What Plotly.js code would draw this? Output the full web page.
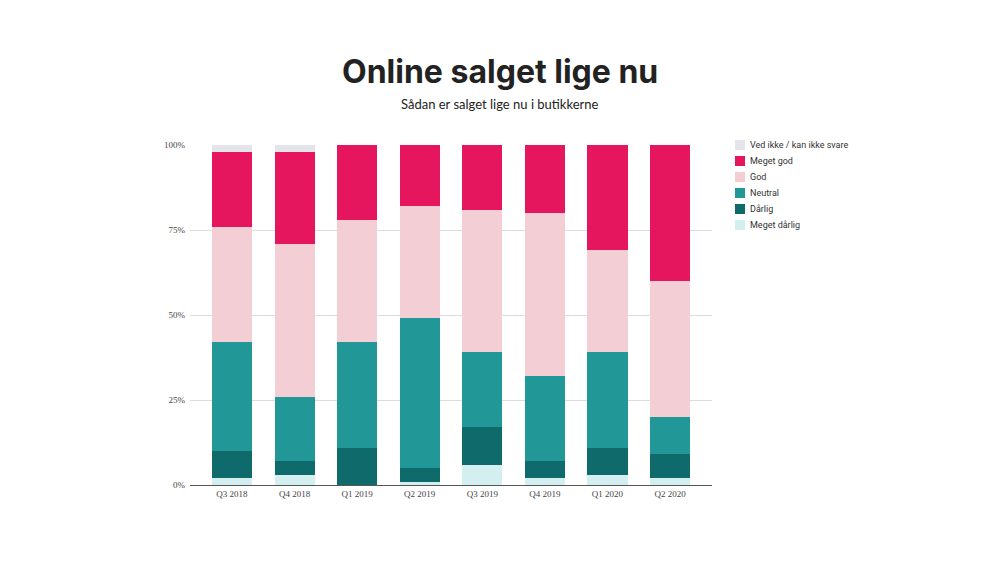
<!DOCTYPE html>
<html><head><meta charset="utf-8">
<script src="https://cdn.plot.ly/plotly-3.0.1.min.js"></script>
<style>body{margin:0;background:#fff}#chart{width:1000px;height:562px}</style>
</head><body><div id="chart"></div>
<script>
const categories = ["Q3 2018","Q4 2018","Q1 2019","Q2 2019","Q3 2019","Q4 2019","Q1 2020","Q2 2020"];
const megetDarlig = [2,3,0,1,6,2,3,2];
const darlig      = [8,4,11,4,11,5,8,7];
const neutral     = [32,19,31,44,22,25,28,11];
const god         = [34,45,36,33,42,48,30,40];
const megetGod    = [22,27,22,18,19,20,31,40];
const vedIkke     = [2,2,0,0,0,0,0,0];
const yTicks = [0,0.25,0.5,0.75,1];
const yTickLabels = ["0%","25%","50%","75%","100%"];

const series = [
  {name:"Meget dårlig", y:megetDarlig, color:"#d3eff0"},
  {name:"Dårlig", y:darlig, color:"#0f6b6b"},
  {name:"Neutral", y:neutral, color:"#229797"},
  {name:"God", y:god, color:"#f3cfd5"},
  {name:"Meget god", y:megetGod, color:"#e5165e"},
  {name:"Ved ikke / kan ikke svare", y:vedIkke, color:"#e4e5ea"}
];
const traces = series.map(s => ({
  type:"bar", name:s.name, x:categories, y:s.y.map(v=>v/100),
  marker:{color:s.color, line:{width:0}}, hovertemplate:"%{y:.0%}<extra>"+s.name+"</extra>"
}));

const L = 190, R = 288, T = 145, B = 77, W = 1000, H = 562;
const pw = W - L - R, ph = H - T - B;
const px = x => (x - L) / pw;           // page px -> paper x
const py = y => (H - B - y) / ph;       // page px -> paper y

const shapes = [], annotations = [];
// custom legend (reversed order, top to bottom)
const legendItems = series.slice().reverse();
legendItems.forEach((s, i) => {
  const cy = 145 + i * 16;
  shapes.push({type:"rect", xref:"paper", yref:"paper",
    x0:px(735), x1:px(745), y0:py(cy+5), y1:py(cy-5), fillcolor:s.color, line:{width:0}});
  annotations.push({text:s.name, xref:"paper", yref:"paper", x:px(748), y:py(cy),
    xanchor:"left", yanchor:"middle", showarrow:false,
    font:{family:"Roboto, sans-serif", size:9, color:"#333"}});
});
annotations.push({text:"<b>Online salget lige nu</b>", xref:"paper", yref:"paper", x:px(500), y:py(71),
  xanchor:"center", yanchor:"middle", showarrow:false, font:{family:"Inter, sans-serif", size:32, color:"#222"}});
annotations.push({text:"Sådan er salget lige nu i butikkerne", xref:"paper", yref:"paper", x:px(500), y:py(104),
  xanchor:"center", yanchor:"middle", showarrow:false, font:{family:"Lato, sans-serif", size:13, color:"#222"}});

const layout = {
  width:W, height:H,
  paper_bgcolor:"#fff", plot_bgcolor:"#fff",
  barmode:"stack", bargap:0.36,
  margin:{l:L, r:R, t:T, b:B},
  showlegend:false,
  xaxis:{range:[-0.67, 7.67], tickfont:{family:"Liberation Serif, Times New Roman, serif", size:9, color:"#444"},
    showline:true, linecolor:"#555", linewidth:1, ticks:"", showgrid:false},
  yaxis:{range:[0,1], tickvals:yTicks, ticktext:yTickLabels, showgrid:true, gridcolor:"#dcdcdc",
    zeroline:false, ticks:"", tickfont:{family:"Liberation Serif, Times New Roman, serif", size:9, color:"#444"},
    ticklabelstandoff:4},
  shapes:shapes,
  annotations:annotations
};
Plotly.newPlot("chart", traces, layout, {displayModeBar:false});
</script></body></html>
